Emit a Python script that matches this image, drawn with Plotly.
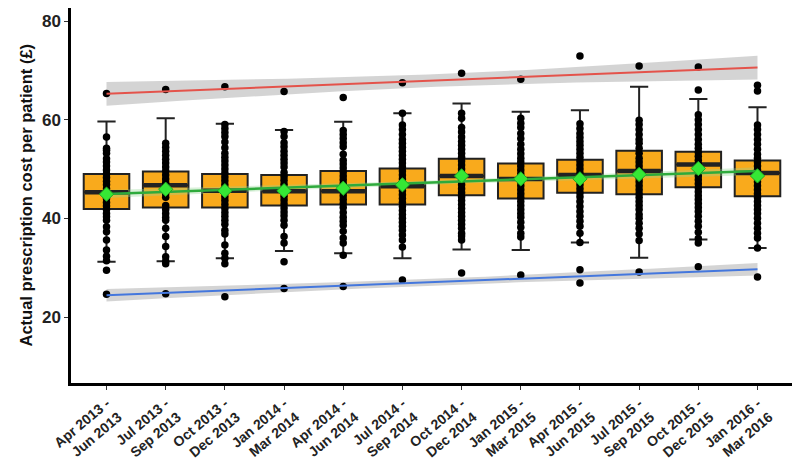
import numpy as np
import plotly.graph_objects as go

quarters = ["Apr 2013 -<br>Jun 2013", "Jul 2013 -<br>Sep 2013", "Oct 2013 -<br>Dec 2013",
            "Jan 2014 -<br>Mar 2014", "Apr 2014 -<br>Jun 2014", "Jul 2014 -<br>Sep 2014",
            "Oct 2014 -<br>Dec 2014", "Jan 2015 -<br>Mar 2015", "Apr 2015 -<br>Jun 2015",
            "Jul 2015 -<br>Sep 2015", "Oct 2015 -<br>Dec 2015", "Jan 2016 -<br>Mar 2016"]

# box summary per quarter
q1 = [41.9, 42.2, 42.2, 42.6, 42.8, 42.8, 44.7, 44.0, 45.2, 44.9, 46.3, 44.5]
median = [45.3, 46.7, 45.6, 45.5, 45.5, 46.5, 48.6, 48.0, 48.8, 49.6, 50.9, 49.2]
q3 = [49.0, 49.5, 49.0, 48.8, 49.6, 50.1, 52.1, 51.1, 51.9, 53.7, 53.5, 51.7]
lower_whisker = [31.2, 31.3, 31.9, 33.4, 32.9, 31.9, 33.7, 33.6, 35.1, 32.0, 35.7, 34.0]
upper_whisker = [59.65, 60.3, 59.2, 57.9, 59.6, 61.3, 63.3, 61.6, 61.9, 66.7, 64.2, 62.5]
mean_cost = [44.9, 45.9, 45.6, 45.6, 46.1, 46.8, 48.6, 48.0, 48.0, 48.9, 50.1, 48.6]

# highest and lowest practice per quarter
max_cost = [65.3, 66.1, 66.7, 65.7, 64.5, 67.5, 69.4, 68.2, 72.9, 70.9, 70.7, 67.0]
min_cost = [24.6, 24.7, 24.1, 25.8, 26.2, 27.5, 28.9, 28.5, 26.9, 29.1, 30.2, 28.1]

# the other practices
practice_cost = [
    [29.5, 31.4, 32.3, 33.6, 35.6, 37.3, 38.3, 39.6, 40.3, 41.0, 41.8, 42.5, 43.2, 44.0, 44.6,
     45.3, 46.0, 46.8, 47.5, 48.3, 49.0, 49.8, 50.6, 51.4, 52.1, 53.2, 53.8, 54.2, 56.5],
    [30.8, 31.3, 32.2, 34.3, 36.3, 38.0, 39.6, 40.2, 41.0, 41.8, 42.6, 44.3, 45.0, 45.8, 46.5,
     47.2, 48.0, 48.8, 49.6, 50.4, 51.2, 52.0, 52.8, 53.6, 54.4, 55.2],
    [30.8, 31.9, 32.9, 34.6, 36.8, 37.6, 38.8, 39.6, 40.4, 41.2, 42.0, 42.8, 43.6, 44.4, 45.2,
     46.0, 46.8, 47.6, 48.4, 49.2, 50.0, 50.8, 51.6, 52.4, 53.2, 54.3, 55.5, 56.6, 57.4, 58.2, 59.0],
    [31.2, 35.0, 36.3, 38.6, 39.6, 40.5, 41.3, 42.1, 42.9, 43.7, 44.5, 45.3, 46.1, 46.9, 47.7,
     48.5, 49.3, 50.4, 51.2, 52.0, 52.8, 53.6, 54.5, 55.3, 56.6, 57.6],
    [32.5, 35.0, 36.0, 37.4, 38.6, 39.4, 40.2, 41.2, 42.2, 43.0, 43.8, 44.6, 45.4, 46.2, 47.0,
     47.8, 48.6, 49.4, 50.2, 51.0, 51.8, 53.0, 54.5, 55.3, 56.2, 57.0, 57.8],
    [34.2, 35.6, 36.6, 37.6, 38.4, 39.2, 40.0, 40.8, 41.6, 42.4, 43.2, 44.0, 44.8, 45.6, 46.4,
     47.2, 48.0, 48.8, 49.6, 50.4, 51.2, 52.0, 52.8, 53.6, 54.4, 55.2, 56.0, 57.0, 58.0, 58.9, 61.3],
    [35.6, 36.4, 37.0, 38.0, 38.8, 39.6, 40.4, 41.2, 42.0, 42.8, 43.6, 44.4, 45.2, 46.0, 46.8,
     47.6, 48.4, 49.2, 50.0, 50.8, 51.6, 52.4, 53.2, 54.0, 54.8, 55.6, 56.5, 57.5, 58.4, 60.3, 61.3],
    [36.2, 37.0, 38.2, 39.2, 40.2, 41.0, 41.8, 42.6, 43.4, 44.2, 45.0, 45.8, 46.6, 47.4, 48.2,
     49.0, 49.8, 50.6, 51.4, 52.2, 53.1, 54.0, 55.0, 56.2, 57.2, 58.4, 59.3, 60.3],
    [29.6, 35.1, 37.0, 38.4, 39.4, 40.4, 41.4, 42.4, 43.4, 44.4, 45.2, 46.0, 46.8, 47.6, 48.4,
     49.2, 50.0, 50.8, 51.6, 52.4, 53.2, 54.0, 54.8, 55.6, 56.4, 57.2, 58.2, 59.2],
    [35.5, 36.8, 38.0, 39.0, 40.0, 40.8, 41.8, 42.6, 43.4, 44.2, 45.0, 45.8, 46.6, 47.4, 48.2,
     49.0, 49.8, 50.6, 51.4, 52.2, 53.2, 54.2, 55.2, 56.0, 57.0, 58.0, 59.0, 59.9],
    [35.0, 35.9, 37.2, 38.4, 39.4, 40.4, 41.4, 42.2, 43.0, 43.8, 44.6, 45.4, 46.2, 47.0, 47.8,
     48.6, 49.4, 50.2, 51.0, 51.8, 52.6, 53.4, 54.2, 55.0, 56.0, 57.0, 58.0, 59.0, 60.0, 61.0, 66.0],
    [34.0, 36.0, 37.0, 38.0, 39.0, 40.0, 41.0, 41.8, 42.6, 43.4, 44.2, 45.0, 45.8, 46.6, 47.4,
     48.2, 49.0, 49.8, 50.6, 51.4, 52.2, 53.0, 54.0, 55.0, 56.0, 57.0, 58.0, 58.9, 65.8],
]

xpos = np.arange(1, len(quarters) + 1)
T_975 = 2.228  # t quantile, 10 df


def smooth(y):
    # straight line fit with 95% band, like geom_smooth(method="lm")
    y = np.asarray(y, float)
    x = xpos.astype(float)
    slope, icpt = np.polyfit(x, y, 1)
    resid = y - (icpt + slope * x)
    s = np.sqrt((resid ** 2).sum() / (len(x) - 2))
    xs = np.linspace(x.min(), x.max(), 80)
    fit = icpt + slope * xs
    se = s * np.sqrt(1 / len(x) + (xs - x.mean()) ** 2 / ((x - x.mean()) ** 2).sum())
    return xs, fit, fit - T_975 * se, fit + T_975 * se


fig = go.Figure()


def add_band(y, band_col):
    xs, fit, lo, hi = smooth(y)
    fig.add_trace(go.Scatter(x=np.concatenate([xs, xs[::-1]]), y=np.concatenate([hi, lo[::-1]]),
                             fill="toself", fillcolor=band_col, line=dict(width=0),
                             mode="lines", hoverinfo="skip"))
    return xs, fit


rx, rfit = add_band(max_cost, "rgba(160,160,160,0.45)")
bx, bfit = add_band(min_cost, "rgba(160,160,160,0.45)")
gx, gfit = add_band(mean_cost, "rgba(150,215,150,0.35)")

fig.add_trace(go.Box(x=xpos, q1=q1, median=median, q3=q3,
                     lowerfence=lower_whisker, upperfence=upper_whisker,
                     width=0.77, whiskerwidth=0.4, fillcolor="#f9aa1c",
                     line=dict(color="#222222", width=2), boxpoints=False))

# thick median bars
fig.add_trace(go.Scatter(x=xpos, y=median, mode="markers",
                         marker=dict(symbol="line-ew", size=31,
                                     line=dict(color="#222222", width=4.5))))

dx, dy = [], []
for i, vals in enumerate(practice_cost):
    dx += [xpos[i]] * len(vals)
    dy += vals
fig.add_trace(go.Scatter(x=dx + list(xpos) + list(xpos), y=dy + max_cost + min_cost,
                         mode="markers", marker=dict(color="black", size=7.5)))

fig.add_trace(go.Scatter(x=rx, y=rfit, mode="lines", line=dict(color="#e4534b", width=2)))
fig.add_trace(go.Scatter(x=bx, y=bfit, mode="lines", line=dict(color="#4477dd", width=2)))
fig.add_trace(go.Scatter(x=gx, y=gfit, mode="lines", line=dict(color="#2eaa3c", width=2.5)))

fig.add_trace(go.Scatter(x=xpos, y=mean_cost, mode="markers",
                         marker=dict(symbol="diamond", size=11, color="#35e835",
                                     line=dict(color="#22aa22", width=1))))

fig.add_annotation(text="Actual prescription cost per patient (£)", textangle=-90,
                   xref="paper", yref="paper", x=0, y=0.5, xshift=-57, showarrow=False,
                   font=dict(size=16.5, family="Liberation Sans, Arial", weight="bold", color="#111111"))

# page body adds an 8px margin, so the figure is 8px smaller than the window
fig.update_layout(
    width=792, height=458,
    margin=dict(l=63, r=7, t=0, b=83),
    plot_bgcolor="white", paper_bgcolor="white",
    showlegend=False,
    font=dict(family="Liberation Sans, Arial, sans-serif", color="#222222"),
)
fig.update_xaxes(range=[0.4, 12.6], tickvals=list(xpos), ticktext=quarters, automargin=False,
                 tickangle=-40, tickfont=dict(size=14, family="Liberation Sans, Arial", weight="bold"),
                 showgrid=False, zeroline=False, showline=True, linecolor="black", linewidth=2.5,
                 ticks="outside", ticklen=4, tickcolor="#333333")
fig.update_yaxes(range=[6.62, 82.64], tickvals=[20, 40, 60, 80], automargin=False,
                 tickfont=dict(size=17, family="Liberation Sans, Arial", weight="bold"),
                 showgrid=False, zeroline=False, showline=True, linecolor="black", linewidth=2.5,
                 ticks="outside", ticklen=4, tickcolor="#333333")

fig.write_html("out.html")
